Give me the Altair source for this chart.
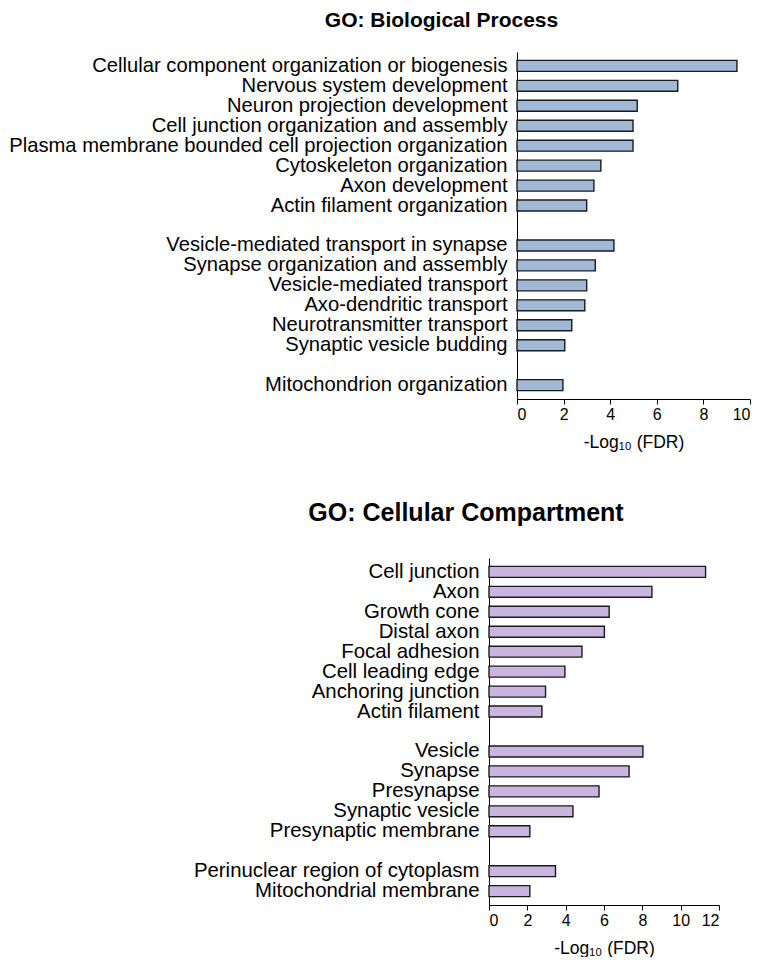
import altair as alt
import pandas as pd

# ---- GO: Biological Process ----
bp_terms = [
    "Cellular component organization or biogenesis",
    "Nervous system development",
    "Neuron projection development",
    "Cell junction organization and assembly",
    "Plasma membrane bounded cell projection organization",
    "Cytoskeleton organization",
    "Axon development",
    "Actin filament organization",
    "Vesicle-mediated transport in synapse",
    "Synapse organization and assembly",
    "Vesicle-mediated transport",
    "Axo-dendritic transport",
    "Neurotransmitter transport",
    "Synaptic vesicle budding",
    "Mitochondrion organization",
]
bp_values = [9.44, 6.90, 5.16, 4.98, 4.98, 3.60, 3.30, 2.99,
             4.16, 3.36, 2.99, 2.91, 2.35, 2.05, 1.97]
bp_order = bp_terms[:8] + [" "] + bp_terms[8:14] + ["  "] + bp_terms[14:]
bp_ticks = [0, 2, 4, 6, 8, 10]

# ---- GO: Cellular Compartment ----
cc_terms = [
    "Cell junction",
    "Axon",
    "Growth cone",
    "Distal axon",
    "Focal adhesion",
    "Cell leading edge",
    "Anchoring junction",
    "Actin filament",
    "Vesicle",
    "Synapse",
    "Presynapse",
    "Synaptic vesicle",
    "Presynaptic membrane",
    "Perinuclear region of cytoplasm",
    "Mitochondrial membrane",
]
cc_values = [11.3, 8.50, 6.27, 6.02, 4.85, 3.96, 2.95, 2.76,
             8.03, 7.31, 5.74, 4.38, 2.13, 3.47, 2.13]
cc_order = cc_terms[:8] + [" "] + cc_terms[8:13] + ["  "] + cc_terms[13:]
cc_ticks = [0, 2, 4, 6, 8, 10, 12]

FONT = "Liberation Sans"


def panel(terms, values, order, ticks, width, x_range, y_offset, color, title,
          title_size, title_dx, title_offset, label_size):
    df = pd.DataFrame({"term": terms, "value": values})
    return (
        alt.Chart(df)
        .mark_bar(color=color, stroke="#1a1a1a", strokeWidth=1.4)
        .encode(
            x=alt.X(
                "value:Q",
                scale=alt.Scale(domain=[ticks[0], ticks[-1]], nice=False, range=x_range),
                axis=alt.Axis(
                    title="-Log₁₀ (FDR)",
                    values=ticks,
                    grid=False,
                    tickSize=5,
                    tickColor="black",
                    domainColor="black",
                    labelFontSize=16,
                    labelColor="black",
                    labelPadding=2,
                    titleFontSize=17.5,
                    titleFontWeight="normal",
                    titleColor="black",
                    titlePadding=11,
                ),
            ),
            y=alt.Y(
                "term:N",
                sort=order,
                scale=alt.Scale(domain=order, paddingInner=0.45, paddingOuter=0.42),
                axis=alt.Axis(
                    title=None,
                    ticks=False,
                    offset=y_offset,
                    domainColor="black",
                    labelFontSize=label_size,
                    labelColor="black",
                    labelPadding=10,
                    labelLimit=0,
                ),
            ),
        )
        .properties(
            width=width,
            height=347,
            title=alt.TitleParams(
                title,
                fontSize=title_size,
                fontWeight="bold",
                color="black",
                anchor="middle",
                frame="group",
                dx=title_dx,
                offset=title_offset,
            ),
        )
    )


top = panel(bp_terms, bp_values, bp_order, bp_ticks, 233, [0, 233], 0,
            "#a2b9d5", "GO: Biological Process", 21, -192, 21, 20.2)
# bottom panel's axis sits 28 px left of the top panel's axis
bottom = panel(cc_terms, cc_values, cc_order, cc_ticks, 202, [-28, 202], 28,
               "#c8b6e0", "GO: Cellular Compartment", 25, -152, 32, 20.4)

chart = (
    alt.vconcat(top, bottom, spacing=50)
    .properties(padding={"top": 2, "left": 0, "right": 0, "bottom": 0})
    .configure(font=FONT)
    .configure_view(stroke=None)
)

chart.save("out.html", embed_options={"renderer": "svg", "actions": False})
